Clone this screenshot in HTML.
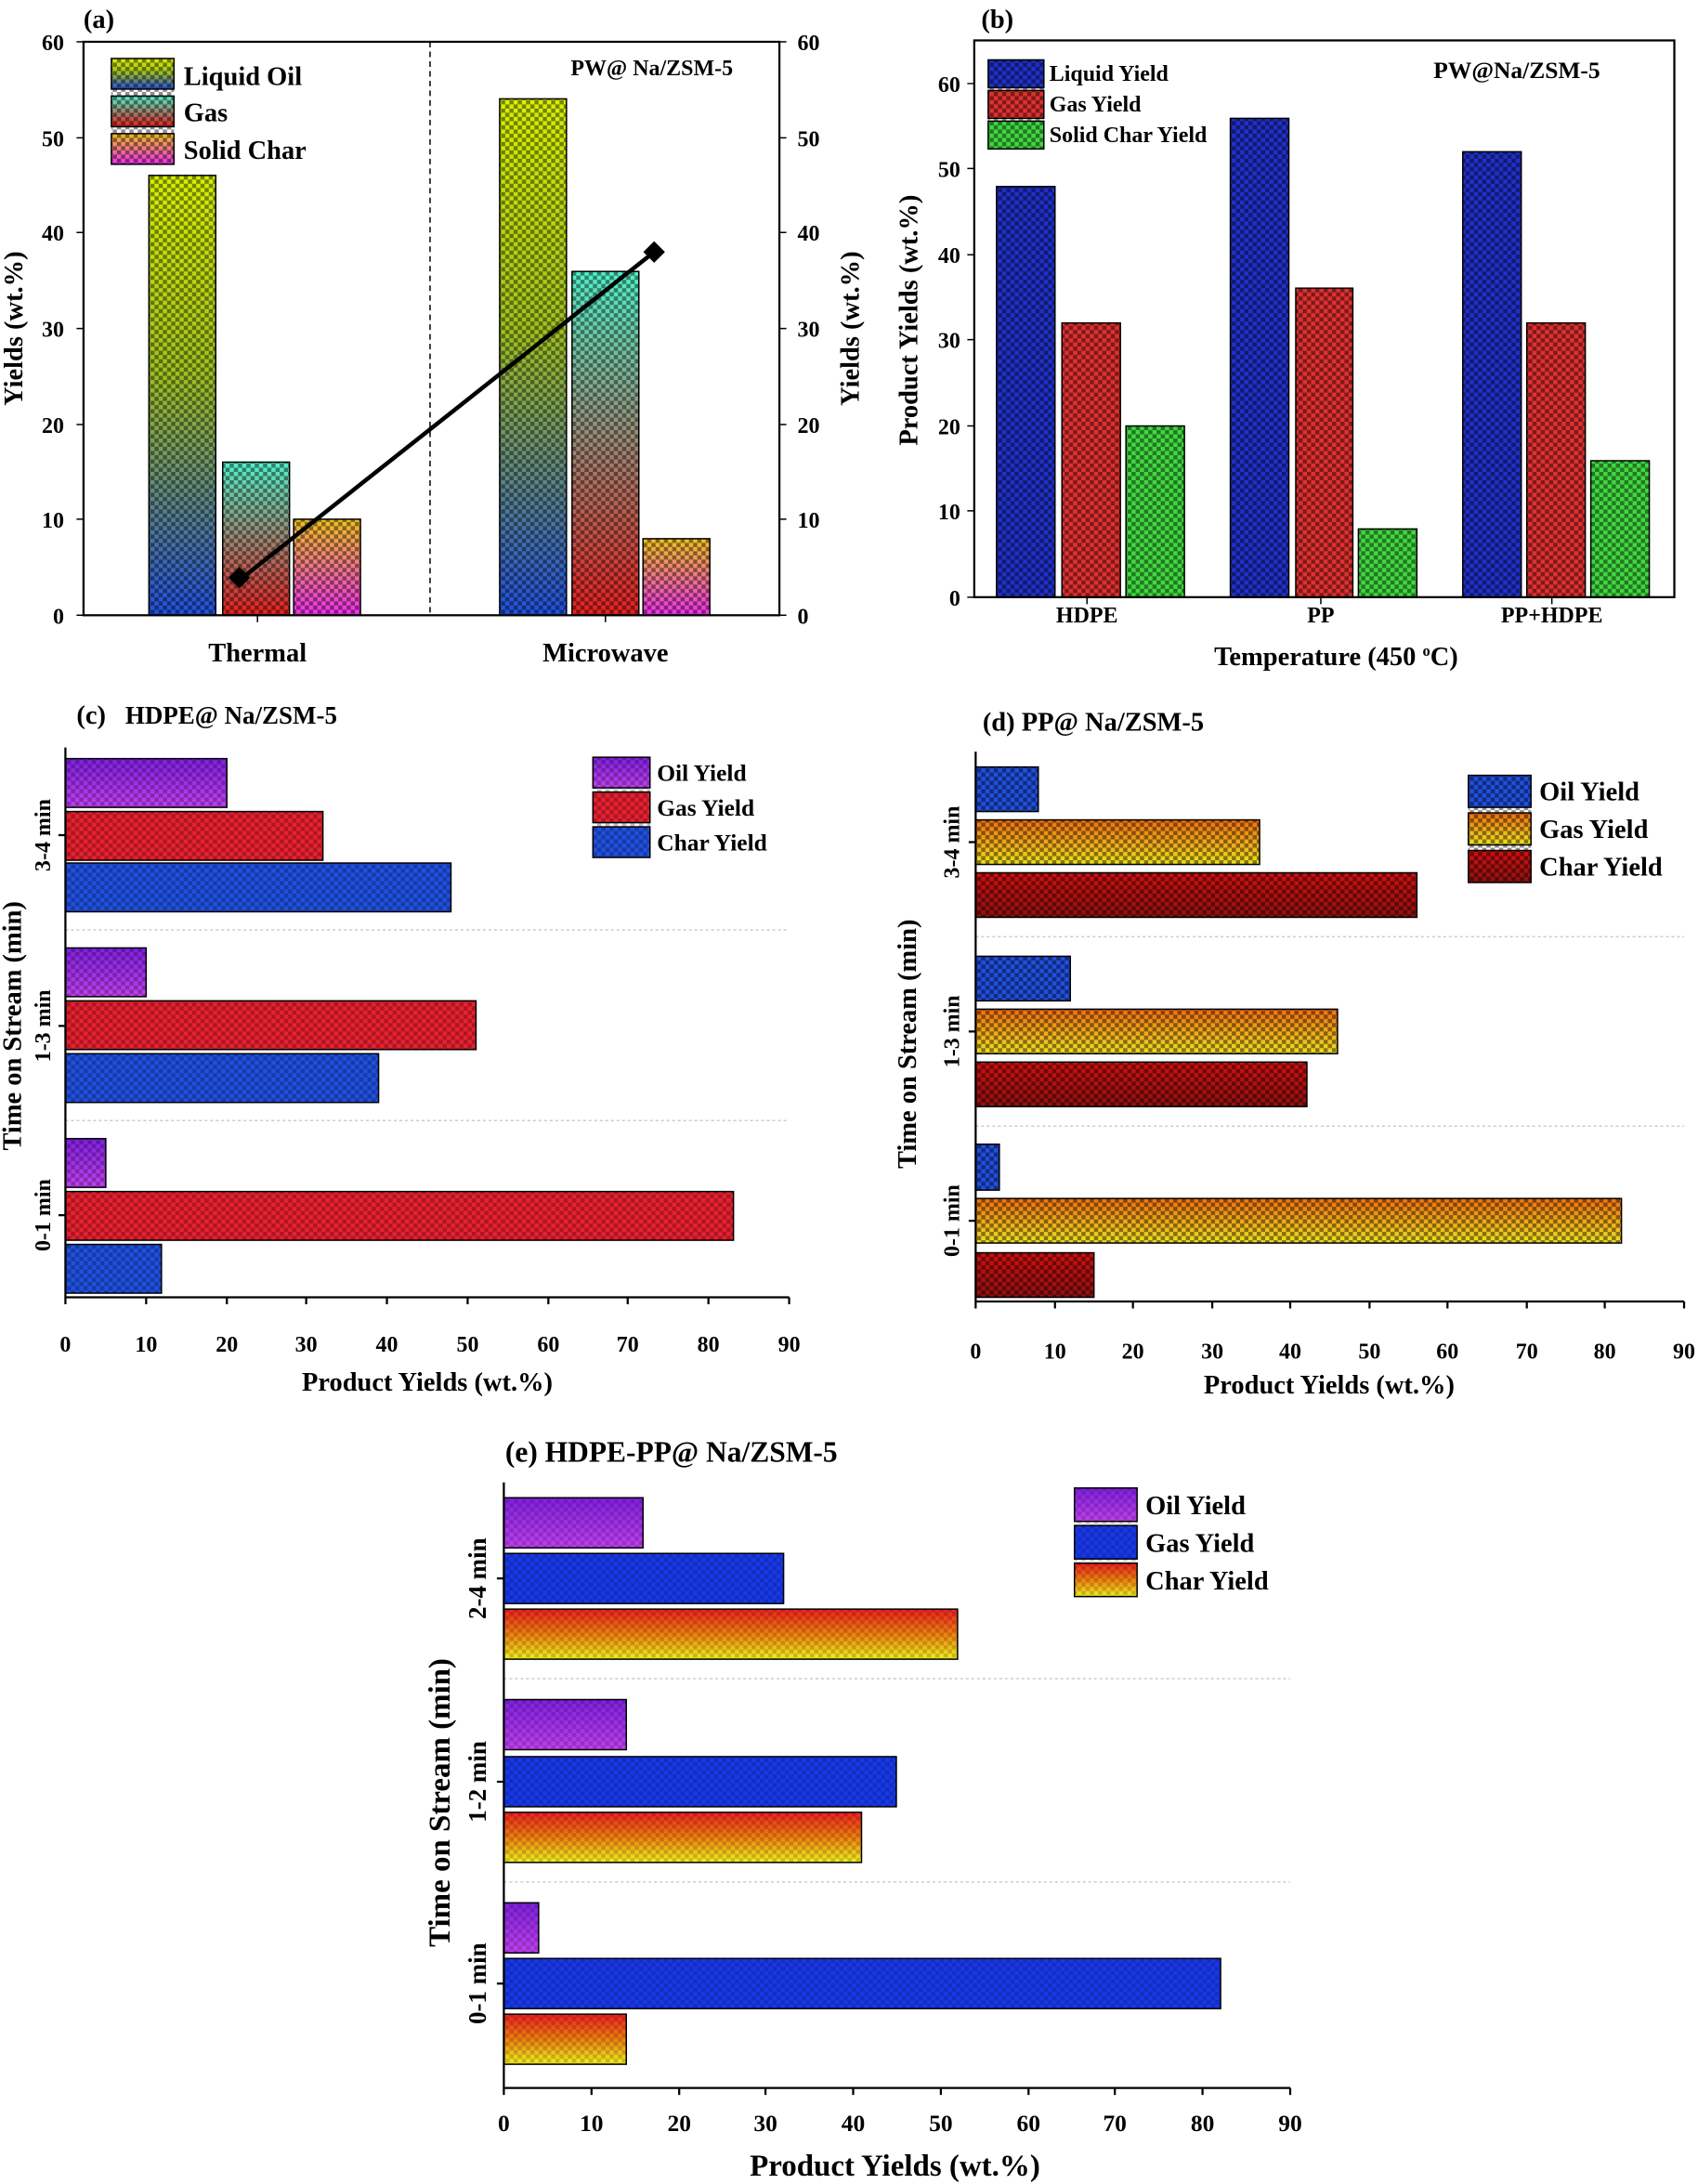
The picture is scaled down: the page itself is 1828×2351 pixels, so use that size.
<!DOCTYPE html>
<html><head><meta charset="utf-8"><style>
html,body{margin:0;padding:0;background:#fff}
svg{display:block}
text{font-family:"Liberation Serif",serif;font-weight:bold;fill:#000}
</style></head><body>
<svg width="1828" height="2351" viewBox="0 0 1220 1569" xmlns="http://www.w3.org/2000/svg">
<defs>
<pattern id="chk" width="6" height="6" patternUnits="userSpaceOnUse"><rect width="3" height="3" fill="#000" opacity="0.45"/><rect x="3" y="3" width="3" height="3" fill="#000" opacity="0.45"/></pattern>
<linearGradient id="aLiq" x1="0" y1="0" x2="0" y2="1"><stop offset="0" stop-color="#d8f000"/><stop offset="0.45" stop-color="#a0c020"/><stop offset="1" stop-color="#2050e0"/></linearGradient>
<linearGradient id="aGas" x1="0" y1="0" x2="0" y2="1"><stop offset="0" stop-color="#50f0c8"/><stop offset="1" stop-color="#e82020"/></linearGradient>
<linearGradient id="aChr" x1="0" y1="0" x2="0" y2="1"><stop offset="0" stop-color="#f0c020"/><stop offset="1" stop-color="#f030f0"/></linearGradient>
<linearGradient id="purp" x1="0" y1="0" x2="0" y2="1"><stop offset="0" stop-color="#8020e0"/><stop offset="1" stop-color="#c040f0"/></linearGradient>
<linearGradient id="orng" x1="0" y1="0" x2="0" y2="1"><stop offset="0" stop-color="#f07010"/><stop offset="1" stop-color="#f0e020"/></linearGradient>
<linearGradient id="dred" x1="0" y1="0" x2="0" y2="1"><stop offset="0" stop-color="#d01010"/><stop offset="1" stop-color="#901010"/></linearGradient>
<linearGradient id="eChr" x1="0" y1="0" x2="0" y2="1"><stop offset="0" stop-color="#f02020"/><stop offset="0.5" stop-color="#f08010"/><stop offset="1" stop-color="#f0f020"/></linearGradient>
</defs>
<g stroke="#000" stroke-width="1">
<!-- Panel a -->
<g fill="url(#aLiq)"><rect x="107" y="126" width="48" height="316"/><rect x="359" y="71" width="48" height="371"/><rect x="80" y="42" width="45" height="22"/></g>
<g fill="url(#aGas)"><rect x="160" y="332" width="48" height="110"/><rect x="411" y="195" width="48" height="247"/><rect x="80" y="69" width="45" height="22"/></g>
<g fill="url(#aChr)"><rect x="211" y="373" width="48" height="69"/><rect x="462" y="387" width="48" height="55"/><rect x="80" y="96" width="45" height="22"/></g>
<g fill="url(#chk)" stroke="none"><rect x="107" y="126" width="48" height="316"/><rect x="359" y="71" width="48" height="371"/><rect x="160" y="332" width="48" height="110"/><rect x="411" y="195" width="48" height="247"/><rect x="211" y="373" width="48" height="69"/><rect x="462" y="387" width="48" height="55"/><rect x="80" y="42" width="45" height="76"/></g>
<line x1="309" y1="30" x2="309" y2="442" stroke-dasharray="4,3"/>
<line x1="173" y1="416" x2="470" y2="181" stroke-width="3"/>
<rect x="167" y="410" width="10" height="10" transform="rotate(45 172 415)" fill="#000"/>
<rect x="465" y="176" width="10" height="10" transform="rotate(45 470 181)" fill="#000"/>
<rect x="60" y="30" width="500" height="412" fill="none" stroke-width="1.5"/>
<path d="M60 442h-5M60 373h-5M60 305h-5M60 236h-5M60 167h-5M60 99h-5M60 30h-5M560 442h5M560 373h5M560 305h5M560 236h5M560 167h5M560 99h5M560 30h5M185 442v5M435 442v5"/>
<!-- Panel b -->
<g fill="#2030c8"><rect x="716" y="134" width="42" height="295"/><rect x="884" y="85" width="42" height="344"/><rect x="1051" y="109" width="42" height="320"/><rect x="710" y="43" width="40" height="20"/></g>
<g fill="#e03030"><rect x="763" y="232" width="42" height="197"/><rect x="931" y="207" width="41" height="222"/><rect x="1097" y="232" width="42" height="197"/><rect x="710" y="65" width="40" height="20"/></g>
<g fill="#40d840"><rect x="809" y="306" width="42" height="123"/><rect x="976" y="380" width="42" height="49"/><rect x="1143" y="331" width="42" height="98"/><rect x="710" y="87" width="40" height="20"/></g>
<g fill="url(#chk)" stroke="none"><rect x="716" y="134" width="42" height="295"/><rect x="884" y="85" width="42" height="344"/><rect x="1051" y="109" width="42" height="320"/><rect x="763" y="232" width="42" height="197"/><rect x="931" y="207" width="41" height="222"/><rect x="1097" y="232" width="42" height="197"/><rect x="809" y="306" width="42" height="123"/><rect x="976" y="380" width="42" height="49"/><rect x="1143" y="331" width="42" height="98"/><rect x="710" y="43" width="40" height="64"/></g>
<rect x="700" y="29" width="503" height="400" fill="none" stroke-width="1.5"/>
<path d="M700 429h-5M700 367h-5M700 306h-5M700 244h-5M700 183h-5M700 121h-5M700 60h-5M781 429v5M949 429v5M1115 429v5"/>
<!-- Panel c -->
<g stroke="#ccc" stroke-dasharray="2,2"><line x1="47" y1="668" x2="567" y2="668"/><line x1="47" y1="805" x2="567" y2="805"/></g>
<g fill="url(#purp)"><rect x="47" y="545" width="116" height="35"/><rect x="47" y="681" width="58" height="35"/><rect x="47" y="818" width="29" height="35"/><rect x="426" y="544" width="41" height="22"/></g>
<g fill="#e82030"><rect x="47" y="583" width="185" height="35"/><rect x="47" y="719" width="295" height="35"/><rect x="47" y="856" width="480" height="35"/><rect x="426" y="569" width="41" height="22"/></g>
<g fill="#2050e0"><rect x="47" y="620" width="277" height="35"/><rect x="47" y="757" width="225" height="35"/><rect x="47" y="894" width="69" height="35"/><rect x="426" y="594" width="41" height="22"/></g>
<g fill="url(#chk)" stroke="none" opacity="0.6"><rect x="47" y="545" width="116" height="35"/><rect x="47" y="681" width="58" height="35"/><rect x="47" y="818" width="29" height="35"/><rect x="47" y="583" width="185" height="35"/><rect x="47" y="719" width="295" height="35"/><rect x="47" y="856" width="480" height="35"/><rect x="47" y="620" width="277" height="35"/><rect x="47" y="757" width="225" height="35"/><rect x="47" y="894" width="69" height="35"/><rect x="426" y="544" width="41" height="72"/></g>
<path d="M47 537V932H567M47 932v5M105 932v5M163 932v5M220 932v5M278 932v5M336 932v5M394 932v5M451 932v5M509 932v5M567 932v5M47 600h-5M47 737h-5M47 873h-5" fill="none" stroke-width="1.5"/>
<!-- Panel d -->
<g stroke="#ccc" stroke-dasharray="2,2"><line x1="701" y1="673" x2="1210" y2="673"/><line x1="701" y1="809" x2="1210" y2="809"/></g>
<g fill="#2050e0"><rect x="701" y="551" width="45" height="32"/><rect x="701" y="687" width="68" height="32"/><rect x="701" y="822" width="17" height="33"/><rect x="1055" y="557" width="45" height="23"/></g>
<g fill="url(#orng)"><rect x="701" y="589" width="204" height="32"/><rect x="701" y="725" width="260" height="32"/><rect x="701" y="861" width="464" height="32"/><rect x="1055" y="584" width="45" height="23"/></g>
<g fill="url(#dred)"><rect x="701" y="627" width="317" height="32"/><rect x="701" y="763" width="238" height="32"/><rect x="701" y="900" width="85" height="32"/><rect x="1055" y="611" width="45" height="23"/></g>
<g fill="url(#chk)" stroke="none"><rect x="701" y="551" width="45" height="32"/><rect x="701" y="687" width="68" height="32"/><rect x="701" y="822" width="17" height="33"/><rect x="701" y="589" width="204" height="32"/><rect x="701" y="725" width="260" height="32"/><rect x="701" y="861" width="464" height="32"/><rect x="701" y="627" width="317" height="32"/><rect x="701" y="763" width="238" height="32"/><rect x="701" y="900" width="85" height="32"/><rect x="1055" y="557" width="45" height="77"/></g>
<path d="M701 540V935H1210M701 935v5M758 935v5M814 935v5M871 935v5M927 935v5M984 935v5M1040 935v5M1097 935v5M1153 935v5M1210 935v5M701 605h-5M701 741h-5M701 877h-5" fill="none" stroke-width="1.5"/>
<!-- Panel e -->
<g stroke="#ccc" stroke-dasharray="2,2"><line x1="362" y1="1206" x2="927" y2="1206"/><line x1="362" y1="1352" x2="927" y2="1352"/></g>
<g fill="url(#purp)"><rect x="362" y="1076" width="100" height="36"/><rect x="362" y="1221" width="88" height="36"/><rect x="362" y="1367" width="25" height="36"/><rect x="772" y="1069" width="45" height="24"/></g>
<g fill="#1838e8"><rect x="362" y="1116" width="201" height="36"/><rect x="362" y="1262" width="282" height="36"/><rect x="362" y="1407" width="515" height="36"/><rect x="772" y="1096" width="45" height="24"/></g>
<g fill="url(#eChr)"><rect x="362" y="1156" width="326" height="36"/><rect x="362" y="1302" width="257" height="36"/><rect x="362" y="1447" width="88" height="36"/><rect x="772" y="1123" width="45" height="24"/></g>
<g fill="url(#chk)" stroke="none" opacity="0.4"><rect x="362" y="1076" width="100" height="36"/><rect x="362" y="1221" width="88" height="36"/><rect x="362" y="1367" width="25" height="36"/><rect x="362" y="1116" width="201" height="36"/><rect x="362" y="1262" width="282" height="36"/><rect x="362" y="1407" width="515" height="36"/><rect x="362" y="1156" width="326" height="36"/><rect x="362" y="1302" width="257" height="36"/><rect x="362" y="1447" width="88" height="36"/><rect x="772" y="1069" width="45" height="78"/></g>
<path d="M362 1065V1500H927M362 1500v5M425 1500v5M488 1500v5M550 1500v5M613 1500v5M676 1500v5M739 1500v5M801 1500v5M864 1500v5M927 1500v5M362 1134h-5M362 1280h-5M362 1425h-5" fill="none" stroke-width="1.5"/>
</g>
<!-- Text -->
<g font-size="19">
<text x="60" y="20">(a)</text>
<text x="132" y="61">Liquid Oil</text><text x="132" y="87">Gas</text><text x="132" y="114">Solid Char</text>
<text x="410" y="54" font-size="16">PW@ Na/ZSM-5</text>
<text x="185" y="475" text-anchor="middle">Thermal</text><text x="435" y="475" text-anchor="middle">Microwave</text>
</g>
<g font-size="16" text-anchor="end"><text x="46" y="448">0</text><text x="46" y="379">10</text><text x="46" y="311">20</text><text x="46" y="242">30</text><text x="46" y="173">40</text><text x="46" y="105">50</text><text x="46" y="36">60</text></g>
<g font-size="16"><text x="573" y="448">0</text><text x="573" y="379">10</text><text x="573" y="311">20</text><text x="573" y="242">30</text><text x="573" y="173">40</text><text x="573" y="105">50</text><text x="573" y="36">60</text></g>
<text font-size="19" transform="translate(16 236) rotate(-90)" text-anchor="middle">Yields (wt.%)</text>
<text font-size="19" transform="translate(617 236) rotate(-90)" text-anchor="middle">Yields (wt.%)</text>
<g font-size="19"><text x="705" y="20">(b)</text></g>
<g font-size="16"><text x="754" y="58">Liquid Yield</text><text x="754" y="80">Gas Yield</text><text x="754" y="102">Solid Char Yield</text><text x="1030" y="56" font-size="17">PW@Na/ZSM-5</text>
<text x="781" y="447" text-anchor="middle">HDPE</text><text x="949" y="447" text-anchor="middle">PP</text><text x="1115" y="447" text-anchor="middle">PP+HDPE</text></g>
<g font-size="16" text-anchor="end"><text x="690" y="435">0</text><text x="690" y="373">10</text><text x="690" y="312">20</text><text x="690" y="250">30</text><text x="690" y="189">40</text><text x="690" y="127">50</text><text x="690" y="66">60</text></g>
<text x="960" y="478" font-size="19" text-anchor="middle">Temperature (450 <tspan font-size="11" dy="-7">o</tspan><tspan dy="7">C)</tspan></text>
<text font-size="19" transform="translate(659 230) rotate(-90)" text-anchor="middle">Product Yields (wt.%)</text>
<!-- c -->
<text x="55" y="520" font-size="19">(c)</text><text x="90" y="520" font-size="18">HDPE@ Na/ZSM-5</text>
<g font-size="17"><text x="472" y="561">Oil Yield</text><text x="472" y="586">Gas Yield</text><text x="472" y="611">Char Yield</text></g>
<g font-size="16" text-anchor="middle"><text x="47" y="971">0</text><text x="105" y="971">10</text><text x="163" y="971">20</text><text x="220" y="971">30</text><text x="278" y="971">40</text><text x="336" y="971">50</text><text x="394" y="971">60</text><text x="451" y="971">70</text><text x="509" y="971">80</text><text x="567" y="971">90</text></g>
<text x="307" y="999" font-size="19" text-anchor="middle">Product Yields (wt.%)</text>
<g font-size="16" text-anchor="middle"><text transform="translate(36 600) rotate(-90)">3-4 min</text><text transform="translate(36 737) rotate(-90)">1-3 min</text><text transform="translate(36 873) rotate(-90)">0-1 min</text></g>
<text font-size="19" transform="translate(15 737) rotate(-90)" text-anchor="middle">Time on Stream (min)</text>
<!-- d -->
<text x="706" y="525" font-size="19">(d) PP@ Na/ZSM-5</text>
<g font-size="19"><text x="1106" y="575">Oil Yield</text><text x="1106" y="602">Gas Yield</text><text x="1106" y="629">Char Yield</text></g>
<g font-size="16" text-anchor="middle"><text x="701" y="976">0</text><text x="758" y="976">10</text><text x="814" y="976">20</text><text x="871" y="976">30</text><text x="927" y="976">40</text><text x="984" y="976">50</text><text x="1040" y="976">60</text><text x="1097" y="976">70</text><text x="1153" y="976">80</text><text x="1210" y="976">90</text></g>
<text x="955" y="1001" font-size="19" text-anchor="middle">Product Yields (wt.%)</text>
<g font-size="16" text-anchor="middle"><text transform="translate(689 605) rotate(-90)">3-4 min</text><text transform="translate(689 741) rotate(-90)">1-3 min</text><text transform="translate(689 877) rotate(-90)">0-1 min</text></g>
<text font-size="19" transform="translate(658 750) rotate(-90)" text-anchor="middle">Time on Stream (min)</text>
<!-- e -->
<text x="363" y="1050" font-size="21">(e) HDPE-PP@ Na/ZSM-5</text>
<g font-size="19"><text x="823" y="1088">Oil Yield</text><text x="823" y="1115">Gas Yield</text><text x="823" y="1142">Char Yield</text></g>
<g font-size="17" text-anchor="middle"><text x="362" y="1531">0</text><text x="425" y="1531">10</text><text x="488" y="1531">20</text><text x="550" y="1531">30</text><text x="613" y="1531">40</text><text x="676" y="1531">50</text><text x="739" y="1531">60</text><text x="801" y="1531">70</text><text x="864" y="1531">80</text><text x="927" y="1531">90</text></g>
<text x="643" y="1563" font-size="22" text-anchor="middle">Product Yields (wt.%)</text>
<g font-size="18" text-anchor="middle"><text transform="translate(349 1134) rotate(-90)">2-4 min</text><text transform="translate(349 1280) rotate(-90)">1-2 min</text><text transform="translate(349 1425) rotate(-90)">0-1 min</text></g>
<text font-size="22" transform="translate(323 1295) rotate(-90)" text-anchor="middle">Time on Stream (min)</text>
</svg>
</body></html>
